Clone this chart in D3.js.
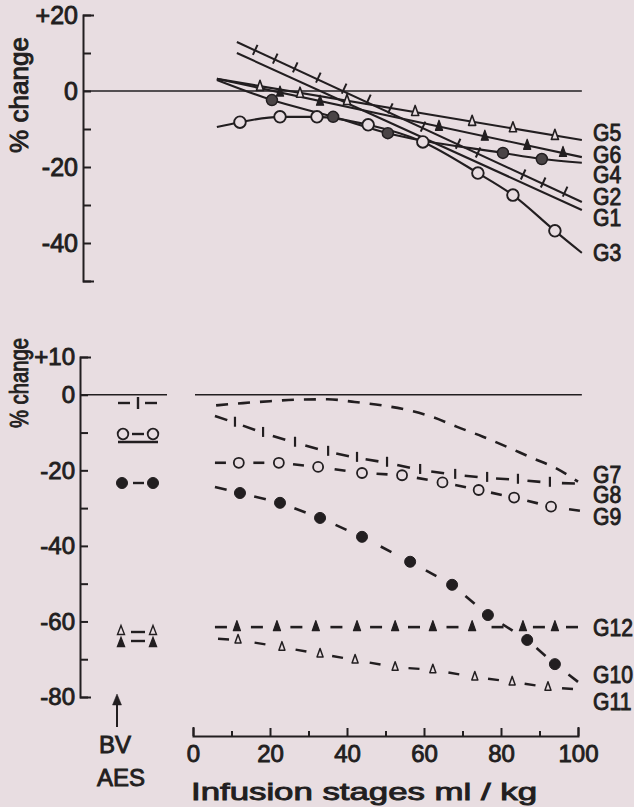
<!DOCTYPE html>
<meta charset="utf-8">
<style>
  body { margin: 0; background: #e8dde1; }
  svg { display: block; }
  text { font-family: "Liberation Sans", Arial, sans-serif; }
</style>
<svg id="chart" width="634" height="807"></svg>
<script src="https://cdn.jsdelivr.net/npm/d3@7"></script>
<script>
// axis ticks
var xTicks = [0, 10, 20, 30, 40, 50, 60, 70, 80, 90, 100];
var topTicks = [20, 10, 0, -10, -20, -30, -40, -50];
var topLabels = [20, 0, -20, -40];
var botTicks = [10, 0, -10, -20, -30, -40, -50, -60, -70, -80];
var botLabels = [10, 0, -20, -40, -60, -80];

// upper panel: [ml/kg, % change]
var g1Line = [[11.4, 10], [101, -31.3]];
var g2Line = [[11.4, 12.9], [101, -29.2]];
var g2Marks = [[16.1, 10.7], [21.3, 8.4], [26.5, 6.1], [32.5, 3.4], [39.2, 0.5], [45.5, -2.4], [51.2, -4.7],
               [59.7, -9.5], [68.8, -14], [74, -16.3], [85.7, -22.1], [90.9, -24.2], [96.6, -26.6]];
var g3Line = [[6.2, -9.5], [12.2, -8.2], [22.6, -6.8], [32.2, -6.8], [45.5, -8.9], [59.7, -13.4],
              [74, -21.6], [83.1, -27.4], [94, -36.8], [101, -42.6]];
var g4Line = [[6.2, 2.9], [20.5, -2.4], [36.4, -6.8], [50.6, -11.1], [80.5, -16.3], [90.6, -17.9], [101, -18.9]];
var g5Line = [[6.2, 3.2], [101, -12.9]];
var g5Marks = [[17.4, 1.1], [27.8, -0.7], [40, -2.6], [57.7, -5.5], [72.5, -8.1], [83.1, -9.8], [94, -11.8]];
var g6Line = [[6.2, 3.2], [101, -17.4]];
var g6Marks = [[22.6, -0.4], [33, -2.8], [63.9, -9.4], [75.8, -12], [86.8, -14.4], [96.1, -16.3]];

// lower panel
var g7Line = [[6, -2.8], [13, -2.2], [20, -1.7], [27, -1.3], [35, -1.2], [42, -1.9], [49, -2.8], [56, -4.1],
              [62.3, -5.9], [68.6, -8.5], [75.3, -11.1], [81.6, -13.8], [88, -16.7], [94, -19.3], [100, -23]];
var g8Line = [[5.7, -5.6], [10.9, -7.4], [18.2, -10.1], [26.5, -12.7], [35.1, -15.1], [42.6, -16.7], [50.4, -18],
              [59, -19.9], [68.1, -21.2], [76.4, -22], [84.4, -22.5], [92.7, -23.3], [99.2, -23.5]];
var g9Line = [[5.7, -18], [11.9, -18], [22.3, -18], [32.5, -19.1], [43.9, -20.7], [54.3, -21.3], [64.8, -23.2],
              [74.2, -25.2], [83.4, -27.2], [93, -29.6], [100.5, -30.7]];
var g10Line = [[5.7, -24.4], [12.2, -26], [22.6, -28.6], [33, -32.6], [43.9, -37.6], [56.4, -44.2], [67.3, -50.3],
               [76.6, -58.3], [86.8, -64.9], [94, -71.3], [100, -76]];
var g11Line = [[6.5, -64.6], [11.7, -64.9], [23.1, -66.8], [33, -68.6], [42.1, -70.2], [52.5, -72.1], [62.3, -72.8],
               [73.2, -74.7], [82.9, -76], [92.2, -77.4], [98.7, -77.9]];
var g12Line = [[5.7, -61.5], [11.4, -61.5], [21.8, -61.5], [31.9, -61.5], [42.6, -61.5], [52.5, -61.5], [62.3, -61.5],
               [72.5, -61.5], [85.7, -61.5], [94, -61.5], [100, -61.5]];

var topNames = [["G5", 133], ["G6", 155], ["G4", 175], ["G2", 197], ["G1", 218], ["G3", 253]];
var botNames = [["G7", 475], ["G8", 495], ["G9", 517], ["G12", 628], ["G10", 675], ["G11", 702]];

var ink = "#221e20", paper = "#e8dde1";
var svg = d3.select("#chart");
svg.append("rect").attr("width", 634).attr("height", 807).attr("fill", paper);

var x = d3.scaleLinear().domain([0, 100]).range([193, 578]);
var yTop = d3.scaleLinear().domain([-50, 20]).range([281, 15]);
var yBot = d3.scaleLinear().domain([-80, 10]).range([697, 357]);

var fmt = d => d > 0 ? "+" + d : String(d);

// heavier print-like text
function ink_text(sel, fs) {
  sel.attr("font-size", fs).attr("font-family", "Liberation Sans, Arial, sans-serif")
    .attr("fill", ink).attr("stroke", ink).attr("stroke-width", 0.9);
}

// y axes (ticks point inward)
function yAxis(scale, ticks, labels, ax, fs) {
  var a = d3.axisLeft(scale).tickValues(ticks).tickSizeInner(-8).tickSizeOuter(-11).tickPadding(5)
    .tickFormat(d => labels.includes(d) ? fmt(d) : "");
  var g = svg.append("g").attr("transform", "translate(" + ax + ",0)").attr("color", ink).call(a);
  g.selectAll("path, line").attr("stroke-width", 2);
  ink_text(g.selectAll("text"), fs);
}
yAxis(yTop, topTicks, topLabels, 83, 25);
yAxis(yBot, botTicks, botLabels, 80, 24);

// zero reference lines
svg.append("line").attr("x1", 83).attr("x2", x(101)).attr("y1", yTop(0)).attr("y2", yTop(0))
  .attr("stroke", ink).attr("stroke-width", 1.6);
svg.append("line").attr("x1", 80).attr("x2", 167).attr("y1", yBot(0)).attr("y2", yBot(0))
  .attr("stroke", ink).attr("stroke-width", 1.6);
svg.append("line").attr("x1", 195).attr("x2", x(101)).attr("y1", yBot(0)).attr("y2", yBot(0))
  .attr("stroke", ink).attr("stroke-width", 1.6);

// x axis
var xa = d3.axisBottom(x).tickValues(xTicks).tickSizeInner(-7).tickSizeOuter(-9).tickPadding(9)
  .tickFormat(d => d % 20 === 0 ? d : "");
var gx = svg.append("g").attr("transform", "translate(0,736)").attr("color", ink).call(xa);
gx.selectAll("path, line").attr("stroke-width", 2);
gx.selectAll(".tick line").attr("y2", d => d % 20 === 0 ? -8 : -5);
ink_text(gx.selectAll("text"), 24);

var line = (ys, curve) => d3.line().x(d => x(d[0])).y(d => ys(d[1])).curve(curve || d3.curveLinear);

function solid(pts, ys, curve) {
  svg.append("path").datum(pts).attr("d", line(ys, curve))
    .attr("fill", "none").attr("stroke", ink).attr("stroke-width", 2.1);
}
function circles(pts, ys, r, fill, sw) {
  svg.append("g").selectAll("circle").data(pts).enter().append("circle")
    .attr("cx", d => x(d[0])).attr("cy", d => ys(d[1])).attr("r", r)
    .attr("fill", fill).attr("stroke", ink).attr("stroke-width", sw);
}
function tris(pts, ys, s, fill, sw) {
  var p = "M0," + (-s) + "L" + (s * 0.55) + "," + (s * 0.55) + "L" + (-s * 0.55) + "," + (s * 0.55) + "Z";
  svg.append("g").selectAll("path").data(pts).enter().append("path")
    .attr("transform", d => "translate(" + x(d[0]) + "," + ys(d[1]) + ")").attr("d", p)
    .attr("fill", fill).attr("stroke", ink).attr("stroke-width", sw).attr("stroke-linejoin", "round");
}
// short dash between each pair of consecutive points
function dashes(pts, ys, len, sw) {
  var p = pts.map(d => [x(d[0]), ys(d[1])]), segs = [];
  for (var i = 0; i < p.length - 1; i++) {
    var a = p[i], b = p[i + 1], dx = b[0] - a[0], dy = b[1] - a[1], L = Math.hypot(dx, dy);
    var ux = dx / L, uy = dy / L, c;
    if (i === 0) c = [a[0] + ux * len / 2, a[1] + uy * len / 2];
    else if (i === p.length - 2) c = [b[0] - ux * len / 2, b[1] - uy * len / 2];
    else c = [(a[0] + b[0]) / 2, (a[1] + b[1]) / 2];
    segs.push([c[0] - ux * len / 2, c[1] - uy * len / 2, c[0] + ux * len / 2, c[1] + uy * len / 2]);
  }
  svg.append("g").selectAll("line").data(segs).enter().append("line")
    .attr("x1", d => d[0]).attr("y1", d => d[1]).attr("x2", d => d[2]).attr("y2", d => d[3])
    .attr("stroke", ink).attr("stroke-width", sw);
}

// ---- upper panel ----
solid(g1Line, yTop);
solid(g2Line, yTop);
var ang = Math.atan2(yTop(g2Line[1][1]) - yTop(g2Line[0][1]), x(g2Line[1][0]) - x(g2Line[0][0]));
var nx = -Math.sin(ang), ny = Math.cos(ang);
svg.append("g").selectAll("line").data(g2Marks).enter().append("line")
  .attr("x1", d => x(d[0]) - nx * 6).attr("y1", d => yTop(d[1]) - ny * 6)
  .attr("x2", d => x(d[0]) + nx * 5).attr("y2", d => yTop(d[1]) + ny * 5)
  .attr("stroke", ink).attr("stroke-width", 2);
solid(g5Line, yTop);
solid(g6Line, yTop);
solid(g4Line, yTop, d3.curveMonotoneX);
solid(g3Line, yTop, d3.curveMonotoneX);
tris(g5Marks, yTop, 6.5, paper, 1.6);
tris(g6Marks, yTop, 6.5, ink, 1.2);
circles(g4Line.slice(1, -1), yTop, 5.5, "#4a4446", 1.5);
circles(g3Line.slice(1, -1), yTop, 5.8, paper, 1.9);

// ---- lower panel ----
svg.append("path").datum(g7Line).attr("d", line(yBot, d3.curveMonotoneX))
  .attr("fill", "none").attr("stroke", ink).attr("stroke-width", 2.6).attr("stroke-dasharray", "12,10");
dashes(g8Line, yBot, 13, 2.6);
svg.append("g").selectAll("line").data(g8Line.slice(1, -1)).enter().append("line")
  .attr("x1", d => x(d[0])).attr("x2", d => x(d[0]))
  .attr("y1", d => yBot(d[1]) - 6).attr("y2", d => yBot(d[1]) + 4)
  .attr("stroke", ink).attr("stroke-width", 2.2);
dashes(g9Line, yBot, 11, 2.6);
circles(g9Line.slice(1, -1), yBot, 5, paper, 1.8);
dashes(g10Line, yBot, 12, 2.6);
circles(g10Line.slice(1, -1), yBot, 5.5, ink, 1);
dashes(g12Line, yBot, 12, 2.6);
tris(g12Line.slice(1, -1), yBot, 6.5, ink, 1.2);
dashes(g11Line, yBot, 11, 2.4);
tris(g11Line.slice(1, -1), yBot, 5.5, paper, 1.5);

// curve names
function names(list) {
  var t = svg.append("g").selectAll("text").data(list).enter().append("text")
    .attr("transform", d => "translate(593," + d[1] + ") scale(0.92,1)")
    .attr("dy", "0.36em").text(d => d[0]);
  ink_text(t, 23);
}
names(topNames);
names(botNames);

// legend glyphs on the left of the lower panel
var lg = svg.append("g").attr("stroke", ink).attr("stroke-width", 2.4);
lg.append("line").attr("x1", 118).attr("x2", 130).attr("y1", 403).attr("y2", 403);
lg.append("line").attr("x1", 138).attr("x2", 138).attr("y1", 397).attr("y2", 409);
lg.append("line").attr("x1", 145).attr("x2", 157).attr("y1", 403).attr("y2", 403);
lg.append("line").attr("x1", 132).attr("x2", 144).attr("y1", 434).attr("y2", 434);
lg.append("line").attr("x1", 118).attr("x2", 158).attr("y1", 442).attr("y2", 442);
lg.append("circle").attr("cx", 123).attr("cy", 434).attr("r", 5.3).attr("fill", paper).attr("stroke-width", 1.8);
lg.append("circle").attr("cx", 153).attr("cy", 434).attr("r", 5.3).attr("fill", paper).attr("stroke-width", 1.8);
lg.append("line").attr("x1", 133).attr("x2", 144).attr("y1", 483).attr("y2", 483);
lg.append("circle").attr("cx", 122).attr("cy", 483).attr("r", 5.5).attr("fill", ink).attr("stroke-width", 1);
lg.append("circle").attr("cx", 153).attr("cy", 483).attr("r", 5.5).attr("fill", ink).attr("stroke-width", 1);
lg.append("line").attr("x1", 131).attr("x2", 145).attr("y1", 632).attr("y2", 632);
lg.append("line").attr("x1", 131).attr("x2", 145).attr("y1", 641).attr("y2", 641);
[[121, 631, paper], [153, 631, paper], [121, 643, ink], [153, 643, ink]].forEach(function(t) {
  lg.append("path").attr("transform", "translate(" + t[0] + "," + t[1] + ")")
    .attr("d", "M0,-5.5L3.5,3.5L-3.5,3.5Z").attr("fill", t[2]).attr("stroke-width", 1.4);
});

// arrow and BV / AES
lg.append("line").attr("x1", 117).attr("x2", 117).attr("y1", 701).attr("y2", 727).attr("stroke-width", 2);
lg.append("path").attr("d", "M117,694L112.5,705L121.5,705Z").attr("fill", ink).attr("stroke-width", 0.5);
ink_text(svg.append("text").attr("x", 99).attr("y", 744).attr("dy", "0.36em").text("BV"), 24);
ink_text(svg.append("text").attr("x", 97).attr("y", 777).attr("dy", "0.36em").text("AES"), 24);

// axis titles
ink_text(svg.append("text").attr("x", 191).attr("y", 791).attr("dy", "0.36em")
  .attr("textLength", 346).attr("lengthAdjust", "spacingAndGlyphs").text("Infusion stages ml / kg"), 24);
[[95, 116], [383, 90]].forEach(function(t) {
  ink_text(svg.append("text").attr("transform", "translate(19," + t[0] + ") rotate(-90)")
    .attr("text-anchor", "middle").attr("dy", "0.36em")
    .attr("textLength", t[1]).attr("lengthAdjust", "spacingAndGlyphs").text("% change"), 25);
});
</script>
